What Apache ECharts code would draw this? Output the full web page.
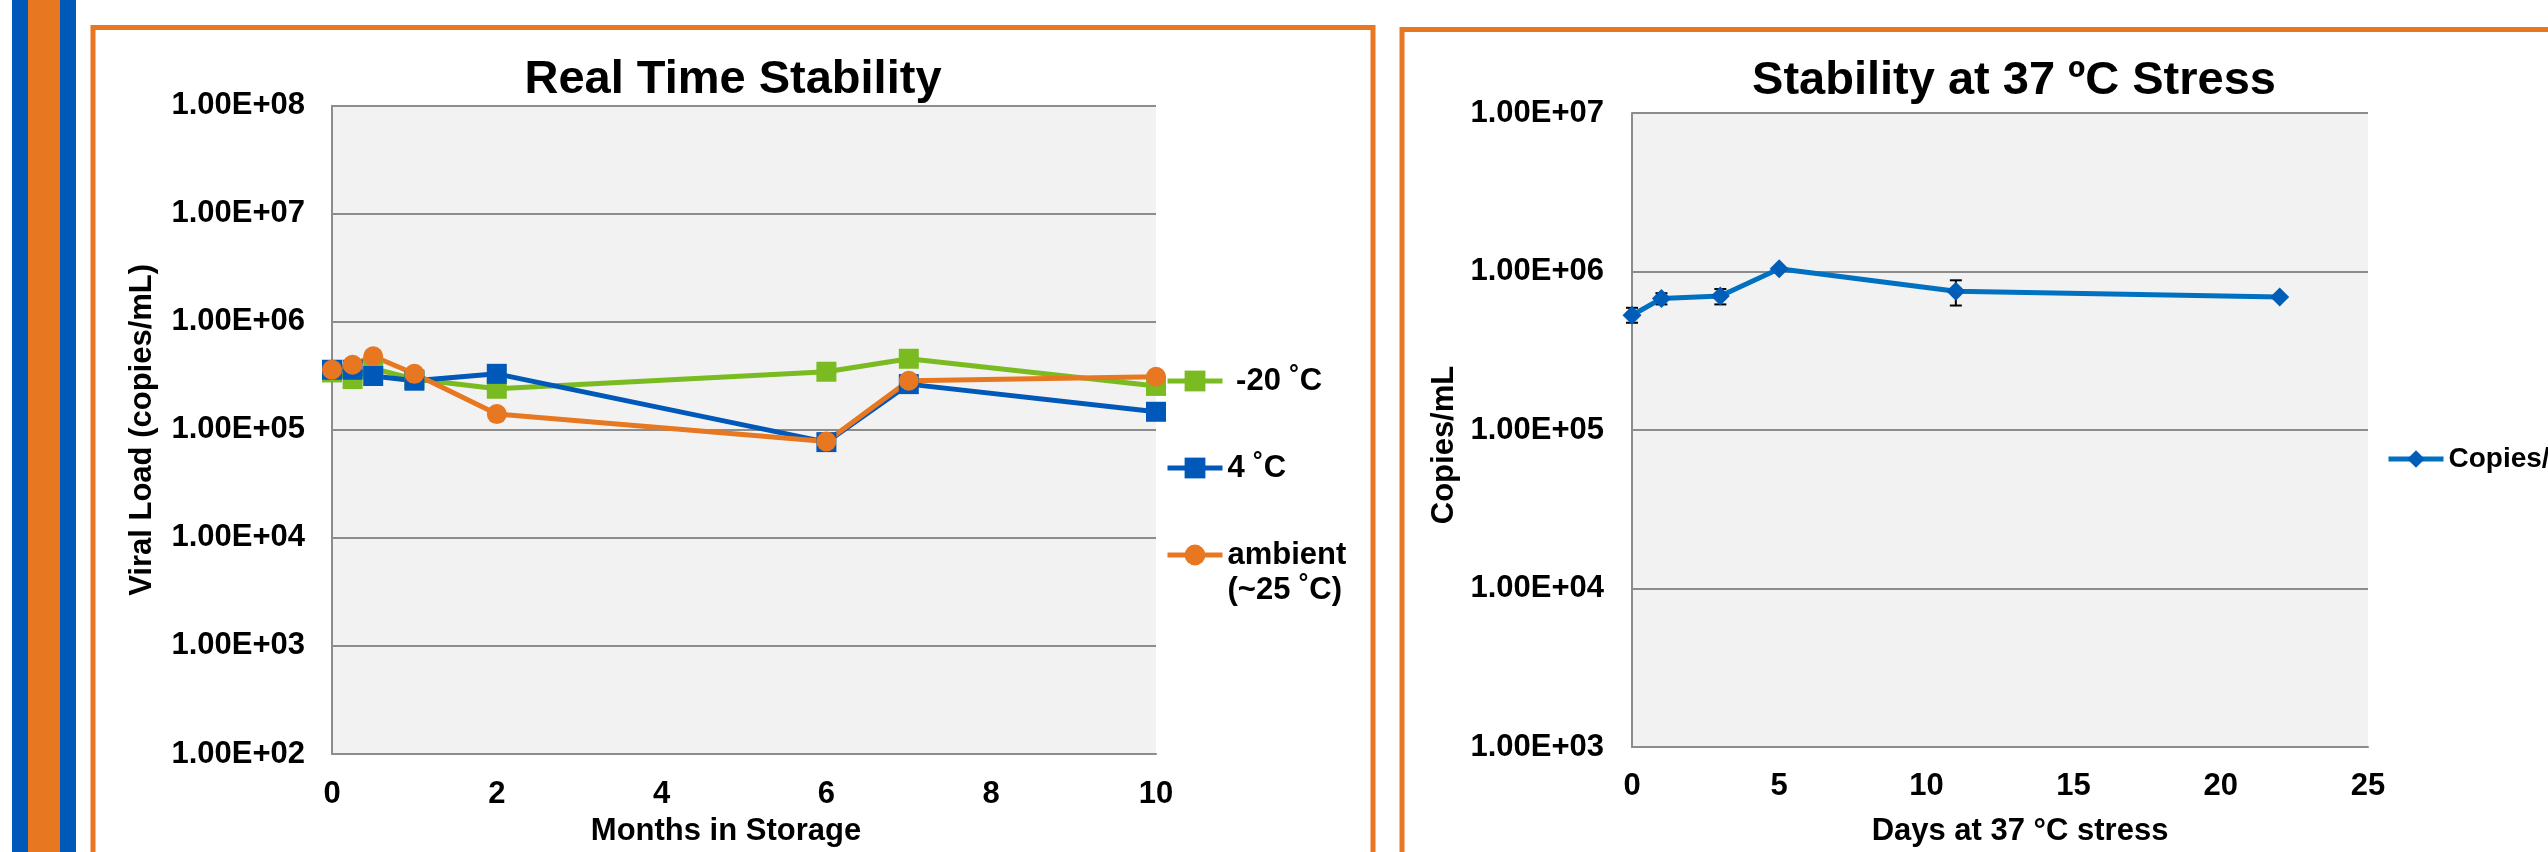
<!DOCTYPE html>
<html><head><meta charset="utf-8">
<script src="https://cdn.jsdelivr.net/npm/echarts@6/dist/echarts.min.js"></script>
<style>html,body{margin:0;padding:0;background:#fff}#c{width:2548px;height:852px}</style>
</head><body><div id="c"></div>
<script>
// ---- data: Real Time Stability ----
const months = [0, 0.25, 0.5, 1, 2, 6, 7, 10];
const minus20 = [3.4e5, 2.95e5, 3.7e5, 2.95e5, 2.4e5, 3.45e5, 4.55e5, 2.55e5];
const fourC = [3.6e5, 3.6e5, 3.15e5, 2.85e5, 3.3e5, 7.7e4, 2.65e5, 1.47e5];
const ambient = [3.6e5, 4.0e5, 4.8e5, 3.3e5, 1.4e5, 7.8e4, 2.85e5, 3.1e5];
const leftNames = ['-20 ˚C', '4 ˚C', 'ambient (~25 ˚C)'];
// ---- data: Stability at 37 ºC ----
const days = [0, 1, 3, 5, 11, 22];
const copies = [5.3e5, 6.75e5, 7.0e5, 1.04e6, 7.5e5, 6.9e5];
const errLow = [4.75e5, 6.2e5, 6.2e5, null, 6.1e5, null];
const errHigh = [5.9e5, 7.3e5, 7.75e5, null, 8.8e5, null];
const rightName = 'Copies/mL';

const F = "'Liberation Sans', Arial, sans-serif";
const GRID = '#8c8c8c';
const GREEN = '#7abb21', BLUE = '#0058b8', ORANGE = '#e87722';
const LINE2 = '#0070c0', MARK2 = '#005eb8';

function expLabel(v) {
  const e = Math.round(Math.log10(v));
  return '1.00E+' + String(e).padStart(2, '0');
}
const lbl = { fontFamily: F, fontWeight: 'bold', fontSize: 31, color: '#000' };

function pairs(xs, ys) { return xs.map((x, i) => [x, ys[i]]); }

const errData = days.map((d, i) => errLow[i] == null ? null : [d, errLow[i], errHigh[i]]).filter(Boolean);

const chart = echarts.init(document.getElementById('c'), null, { renderer: 'canvas' });

function legendItem(name, top, left, iconH, extra) {
  return Object.assign({
    data: [name], orient: 'vertical', left: left, top: top, padding: 0,
    itemWidth: 55, itemHeight: iconH, selectedMode: false,
    lineStyle: { width: 5 },
    textStyle: Object.assign({}, lbl, { lineHeight: 35 })
  }, extra || {});
}

const option = {
  backgroundColor: '#fff',
  animation: false,
  graphic: [
    { type: 'rect', shape: { x: 12, y: 0, width: 16, height: 852 }, style: { fill: BLUE }, z: 0 },
    { type: 'rect', shape: { x: 28, y: 0, width: 32, height: 852 }, style: { fill: ORANGE }, z: 0 },
    { type: 'rect', shape: { x: 60, y: 0, width: 16, height: 852 }, style: { fill: BLUE }, z: 0 },
    { type: 'rect', shape: { x: 93, y: 27.5, width: 1280, height: 900 }, style: { fill: '#fff', stroke: ORANGE, lineWidth: 5 }, z: -1 },
    { type: 'rect', shape: { x: 1402, y: 29.5, width: 1300, height: 900 }, style: { fill: '#fff', stroke: ORANGE, lineWidth: 5 }, z: -1 },
    { type: 'text', x: 733, y: 57, style: { text: 'Real Time Stability', font: "bold 47px 'Liberation Sans', Arial, sans-serif", fill: '#000', textAlign: 'center', textVerticalAlign: 'top' } },
    { type: 'text', x: 2014, y: 58, style: { text: 'Stability at 37 ºC Stress', font: "bold 47px 'Liberation Sans', Arial, sans-serif", fill: '#000', textAlign: 'center', textVerticalAlign: 'top' } }
  ],
  grid: [
    { left: 332, top: 105.7, width: 824, height: 650.3, show: true, backgroundColor: '#f2f2f2', borderWidth: 0, containLabel: false },
    { left: 1632, top: 113, width: 736, height: 639, show: true, backgroundColor: '#f2f2f2', borderWidth: 0, containLabel: false }
  ],
  xAxis: [
    { gridIndex: 0, type: 'value', min: 0, max: 10, interval: 2,
      axisLine: { show: true, lineStyle: { color: GRID, width: 2 } }, axisTick: { show: false },
      splitLine: { show: false }, axisLabel: Object.assign({ margin: 25 }, lbl),
      name: 'Months in Storage', nameLocation: 'middle', nameGap: 62,
      nameTextStyle: Object.assign({ padding: [0, 36, 0, 0] }, lbl) },
    { gridIndex: 1, type: 'value', min: 0, max: 25, interval: 5,
      axisLine: { show: true, lineStyle: { color: GRID, width: 2 } }, axisTick: { show: false },
      splitLine: { show: false }, axisLabel: Object.assign({ margin: 24 }, lbl),
      name: 'Days at 37 °C stress', nameLocation: 'middle', nameGap: 69,
      nameTextStyle: Object.assign({ padding: [0, 0, 0, 40] }, lbl) }
  ],
  yAxis: [
    { gridIndex: 0, type: 'log', logBase: 10, min: 100, max: 1e8, splitNumber: 6,
      axisLine: { show: true, lineStyle: { color: GRID, width: 2 } }, axisTick: { show: false },
      splitLine: { show: true, lineStyle: { color: GRID, width: 2 } },
      axisLabel: Object.assign({ margin: 27, formatter: expLabel, padding: [8, 0, 0, 0] }, lbl),
      name: 'Viral Load (copies/mL)', nameLocation: 'middle', nameGap: 174, nameRotate: 90,
      nameTextStyle: lbl },
    { gridIndex: 1, type: 'log', logBase: 10, min: 1000, max: 1e7, splitNumber: 4,
      axisLine: { show: true, lineStyle: { color: GRID, width: 2 } }, axisTick: { show: false },
      splitLine: { show: true, lineStyle: { color: GRID, width: 2 } },
      axisLabel: Object.assign({ margin: 28, formatter: expLabel, padding: [8, 0, 0, 0] }, lbl),
      name: 'Copies/mL', nameLocation: 'middle', nameGap: 172, nameRotate: 90,
      nameTextStyle: Object.assign({ padding: [0, 30, 0, 0] }, lbl) }
  ],
  legend: [
    legendItem(leftNames[0], 363.5, 1165, 26, { formatter: n => ' ' + n }),
    legendItem(leftNames[1], 450.5, 1165, 26),
    legendItem(leftNames[2], 502.5, 1165, 26, {
      formatter: n => '\n' + n.replace(' (', '\n(') }),
    legendItem(rightName, 443, 2386, 22, {
      textStyle: Object.assign({}, lbl, { fontSize: 28, lineHeight: 32 }) })
  ],
  series: [
    { name: leftNames[0], type: 'line', xAxisIndex: 0, yAxisIndex: 0, data: pairs(months, minus20),
      symbol: 'rect', symbolSize: 20, lineStyle: { color: GREEN, width: 5 }, itemStyle: { color: GREEN } },
    { name: leftNames[1], type: 'line', xAxisIndex: 0, yAxisIndex: 0, data: pairs(months, fourC),
      symbol: 'rect', symbolSize: 20, lineStyle: { color: BLUE, width: 5 }, itemStyle: { color: BLUE } },
    { name: leftNames[2], type: 'line', xAxisIndex: 0, yAxisIndex: 0, data: pairs(months, ambient),
      symbol: 'circle', symbolSize: 20, lineStyle: { color: ORANGE, width: 5 }, itemStyle: { color: ORANGE } },
    { name: 'err', type: 'custom', xAxisIndex: 1, yAxisIndex: 1, data: errData, z: 1,
      encode: { x: 0, y: [1, 2] },
      renderItem: function (params, api) {
        const x = api.value(0);
        const p1 = api.coord([x, api.value(1)]);
        const p2 = api.coord([x, api.value(2)]);
        const s = { stroke: '#000', lineWidth: 2 };
        return { type: 'group', children: [
          { type: 'line', shape: { x1: p1[0], y1: p1[1], x2: p2[0], y2: p2[1] }, style: s },
          { type: 'line', shape: { x1: p1[0] - 6, y1: p1[1], x2: p1[0] + 6, y2: p1[1] }, style: s },
          { type: 'line', shape: { x1: p2[0] - 6, y1: p2[1], x2: p2[0] + 6, y2: p2[1] }, style: s }
        ] };
      } },
    { name: rightName, type: 'line', xAxisIndex: 1, yAxisIndex: 1, data: pairs(days, copies), z: 3,
      symbol: 'diamond', symbolSize: 19, lineStyle: { color: LINE2, width: 5 }, itemStyle: { color: MARK2 } }
  ]
};
chart.setOption(option);
</script>
</body></html>
